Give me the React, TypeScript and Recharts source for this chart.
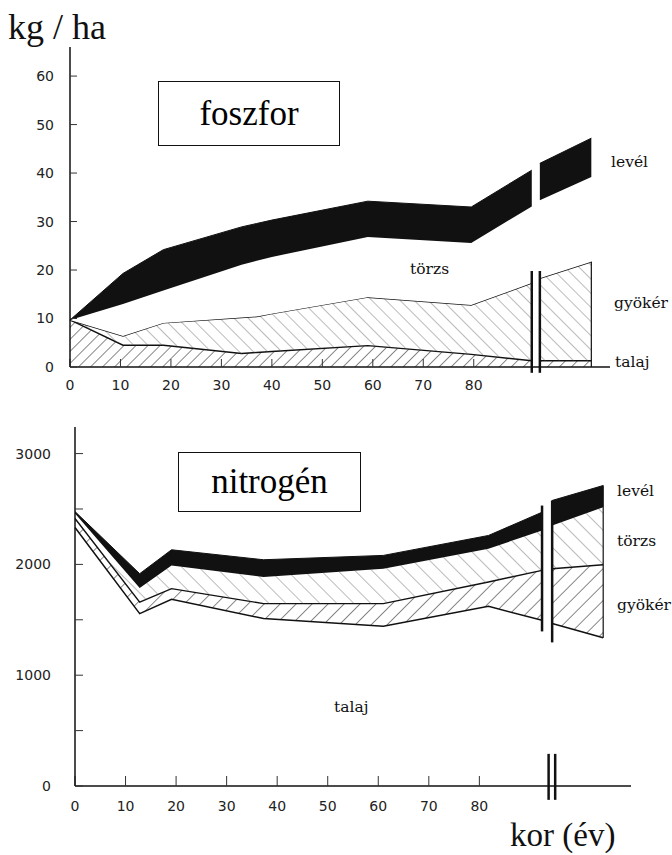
import { Area, AreaChart, ReferenceLine, XAxis, YAxis } from "recharts";

// foszfor (kg/ha), layer amounts per compartment, null = axis break
const AGES_P = [0, 10.5, 18.5, 34, 37, 40, 59, 79.5, 91.5, 92.3, 93.1, 103.3];
const TALAJ_P = [9.7, 4.5, 4.5, 2.8, 3.0, 3.2, 4.4, 2.6, 1.3, null, 1.3, 1.3];
const GYOKER_P = [0, 1.9, 4.6, 7.4, 7.4, 7.8, 10.0, 10.2, 16.0, null, 17.0, 20.4];
const TORZS_P = [0, 6.6, 6.7, 10.9, 11.5, 11.7, 12.4, 12.8, 15.8, null, 16.1, 17.5];
const LEVEL_P = [0, 6.3, 8.4, 7.8, 7.7, 7.6, 7.4, 7.4, 7.5, null, 7.6, 8.0];

// nitrogén (kg/ha)
const AGES_N = [0, 12.8, 19.1, 37.3, 61, 81.8, 92.4, 93.4, 94.4, 104.5];
const TALAJ_N = [2333, 1556, 1685, 1511, 1441, 1622, 1495, null, 1466, 1338];
const GYOKER_N = [81, 104, 96, 135, 205, 219, 451, null, 495, 659];
const TORZS_N = [46, 128, 210, 240, 315, 300, 360, null, 390, 519];
const LEVEL_N = [17, 128, 141, 156, 120, 120, 165, null, 226, 196];

const X_TICKS = [0, 10, 20, 30, 40, 50, 60, 70, 80];
const Y_TICKS_P = [0, 10, 20, 30, 40, 50, 60];
const Y_TICKS_N = [0, 500, 1000, 1500, 2000, 2500, 3000];
const AXIS_BREAK_N = [93.7, 95];

const tickFont = { fill: "#222", fontSize: 14, fontFamily: "DejaVu Sans" };
const serif = "'Liberation Serif', 'Times New Roman', serif";
const labelSerif = "'DejaVu Serif', serif";

function rows(ages: number[], t: any[], g: any[], s: any[], l: any[]) {
  return ages.map((age, i) => ({ age, talaj: t[i], gyoker: g[i], torzs: s[i], level: l[i] }));
}

const dataP = rows(AGES_P, TALAJ_P, GYOKER_P, TORZS_P, LEVEL_P);
const dataN = rows(AGES_N, TALAJ_N, GYOKER_N, TORZS_N, LEVEL_N);

function Hatch({ id, size, angle, color, width }: any) {
  return (
    <pattern id={id} patternUnits="userSpaceOnUse" width={size} height={size} patternTransform={`rotate(${angle})`}>
      <line x1={0} y1={0} x2={0} y2={size} stroke={color} strokeWidth={width} />
    </pattern>
  );
}

function PhosphorusChart() {
  const bi = TALAJ_P.indexOf(null);
  const xa = AGES_P[bi - 1];
  const xb = AGES_P[bi + 1];
  const topA = TALAJ_P[bi - 1]! + GYOKER_P[bi - 1]!;
  const topB = TALAJ_P[bi + 1]! + GYOKER_P[bi + 1]!;
  const last = AGES_P.length - 1;
  const lastTop = TALAJ_P[last]! + GYOKER_P[last]!;
  return (
    <AreaChart width={672} height={420} data={dataP} margin={{ top: 47, right: 62, bottom: 23, left: 20 }}>
      <defs>
        <Hatch id="pTalaj" size={8.5} angle={45} color="#111" width={1} />
        <Hatch id="pGyoker" size={10} angle={-45} color="#555" width={0.8} />
      </defs>
      <XAxis
        type="number"
        dataKey="age"
        domain={[0, 107]}
        ticks={X_TICKS}
        height={30}
        tickSize={-8}
        tickMargin={21}
        axisLine={{ stroke: "#111", strokeWidth: 1.5 }}
        tickLine={{ stroke: "#333" }}
        tick={tickFont}
        interval={0}
      />
      <YAxis
        type="number"
        domain={[0, 66]}
        ticks={Y_TICKS_P}
        width={50}
        tickSize={-7}
        tickMargin={23}
        axisLine={{ stroke: "#111", strokeWidth: 1.5 }}
        tickLine={{ stroke: "#333" }}
        tick={tickFont}
        interval={0}
      />
      <Area dataKey="talaj" stackId="p" type="linear" fill="url(#pTalaj)" fillOpacity={1} stroke="#111" strokeWidth={1.4} isAnimationActive={false} />
      <Area dataKey="gyoker" stackId="p" type="linear" fill="url(#pGyoker)" fillOpacity={1} stroke="#111" strokeWidth={1.4} isAnimationActive={false} />
      <Area dataKey="torzs" stackId="p" type="linear" fill="#fff" fillOpacity={1} stroke="none" isAnimationActive={false} />
      <Area dataKey="level" stackId="p" type="linear" fill="#111" fillOpacity={1} stroke="#111" strokeWidth={1} isAnimationActive={false} />
      <ReferenceLine segment={[{ x: xa, y: -1.2 }, { x: xa, y: Math.max(topA, topB) + 1.5 }]} stroke="#111" strokeWidth={2.5} ifOverflow="visible" />
      <ReferenceLine segment={[{ x: xb, y: -1.2 }, { x: xb, y: Math.max(topA, topB) + 1.5 }]} stroke="#111" strokeWidth={2.5} ifOverflow="visible" />
      <ReferenceLine segment={[{ x: AGES_P[last], y: 0 }, { x: AGES_P[last], y: lastTop }]} stroke="#111" strokeWidth={1.2} ifOverflow="visible" />
    </AreaChart>
  );
}

function NitrogenChart() {
  const bi = TALAJ_N.indexOf(null);
  const xa = AGES_N[bi - 1];
  const xb = AGES_N[bi + 1];
  const sum = (i: number) => TALAJ_N[i]! + GYOKER_N[i]! + TORZS_N[i]! + LEVEL_N[i]!;
  const last = AGES_N.length - 1;
  return (
    <AreaChart width={672} height={435} data={dataN} margin={{ top: 7, right: 41, bottom: 39, left: 25 }}>
      <defs>
        <Hatch id="nGyoker" size={11.3} angle={45} color="#111" width={1} />
        <Hatch id="nTorzs" size={12} angle={-45} color="#555" width={0.8} />
      </defs>
      <XAxis
        type="number"
        dataKey="age"
        domain={[0, 110]}
        ticks={X_TICKS}
        height={30}
        tickSize={-10}
        tickMargin={25}
        axisLine={{ stroke: "#111", strokeWidth: 1.5 }}
        tickLine={{ stroke: "#333" }}
        tick={tickFont}
        interval={0}
      />
      <YAxis
        type="number"
        domain={[0, 3240]}
        ticks={Y_TICKS_N}
        width={50}
        tickSize={-8}
        tickMargin={32}
        tickFormatter={(v: number) => (v % 1000 === 0 ? String(v) : "")}
        axisLine={{ stroke: "#111", strokeWidth: 1.5 }}
        tickLine={{ stroke: "#333" }}
        tick={tickFont}
        interval={0}
      />
      <Area dataKey="talaj" stackId="n" type="linear" fill="#fff" fillOpacity={1} stroke="#111" strokeWidth={1.5} isAnimationActive={false} />
      <Area dataKey="gyoker" stackId="n" type="linear" fill="url(#nGyoker)" fillOpacity={1} stroke="#111" strokeWidth={1.4} isAnimationActive={false} />
      <Area dataKey="torzs" stackId="n" type="linear" fill="url(#nTorzs)" fillOpacity={1} stroke="none" isAnimationActive={false} />
      <Area dataKey="level" stackId="n" type="linear" fill="#111" fillOpacity={1} stroke="#111" strokeWidth={1} isAnimationActive={false} />
      <ReferenceLine segment={[{ x: xa, y: TALAJ_N[bi - 1]! - 100 }, { x: xa, y: sum(bi - 1) + 60 }]} stroke="#111" strokeWidth={2.5} ifOverflow="visible" />
      <ReferenceLine segment={[{ x: xb, y: TALAJ_N[bi + 1]! - 170 }, { x: xb, y: sum(bi + 1) }]} stroke="#111" strokeWidth={2.5} ifOverflow="visible" />
      <ReferenceLine segment={[{ x: AGES_N[last], y: TALAJ_N[last]! }, { x: AGES_N[last], y: sum(last) }]} stroke="#111" strokeWidth={1.2} ifOverflow="visible" />
      {AXIS_BREAK_N.map((x) => (
        <ReferenceLine key={x} segment={[{ x, y: -125 }, { x, y: 290 }]} stroke="#111" strokeWidth={2.5} ifOverflow="visible" />
      ))}
    </AreaChart>
  );
}

function Txt({ x, y, size, family, children }: any) {
  return (
    <div style={{ position: "absolute", left: x, top: y, fontSize: size, fontFamily: family, lineHeight: 1, transform: "translateY(-50%)", whiteSpace: "nowrap", color: "#111" }}>
      {children}
    </div>
  );
}

function Box({ x, y, w, h, children }: any) {
  return (
    <div style={{ position: "absolute", left: x, top: y, width: w, height: h, border: "1.5px solid #111", boxSizing: "border-box", display: "flex", alignItems: "center", justifyContent: "center", fontFamily: serif, fontSize: 35, background: "#fff" }}>
      {children}
    </div>
  );
}

export default function App() {
  return (
    <div style={{ position: "absolute", left: 0, top: 0, width: 672, height: 855, background: "#fff", overflow: "hidden" }}>
      <div style={{ position: "absolute", left: 0, top: 0 }}>
        <PhosphorusChart />
      </div>
      <div style={{ position: "absolute", left: 0, top: 420 }}>
        <NitrogenChart />
      </div>
      <Txt x={8} y={27} size={36} family={serif}>kg / ha</Txt>
      <Box x={158} y={81} w={182} h={65}>foszfor</Box>
      <Box x={178} y={452} w={183} h={60}>nitrogén</Box>
      <Txt x={611} y={163} size={15.5} family={labelSerif}>levél</Txt>
      <Txt x={410} y={270} size={15.5} family={labelSerif}>törzs</Txt>
      <Txt x={614} y={304} size={15.5} family={labelSerif}>gyökér</Txt>
      <Txt x={615} y={363} size={15.5} family={labelSerif}>talaj</Txt>
      <Txt x={617} y={492} size={15.5} family={labelSerif}>levél</Txt>
      <Txt x={617} y={542} size={15.5} family={labelSerif}>törzs</Txt>
      <Txt x={617} y={606} size={15.5} family={labelSerif}>gyökér</Txt>
      <Txt x={334} y={708} size={15.5} family={labelSerif}>talaj</Txt>
      <Txt x={510} y={835} size={33} family={serif}>kor (év)</Txt>
    </div>
  );
}
